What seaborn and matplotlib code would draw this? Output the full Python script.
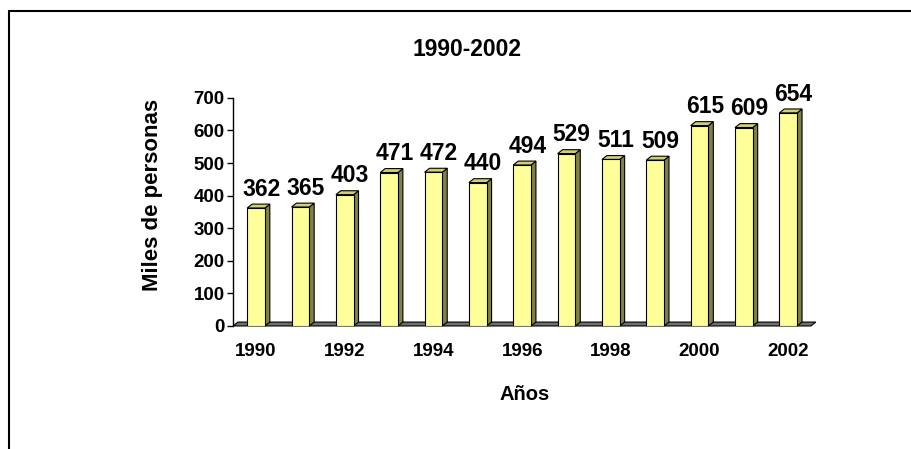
import matplotlib
matplotlib.use("Agg")
import matplotlib.pyplot as plt
import seaborn as sns
import pandas as pd
from matplotlib.patches import Polygon
from matplotlib.lines import Line2D

# datos
anios = ["1990", "1991", "1992", "1993", "1994", "1995", "1996",
         "1997", "1998", "1999", "2000", "2001", "2002"]
miles = [362, 365, 403, 471, 472, 440, 494, 529, 511, 509, 615, 609, 654]
etiquetas_x = ["1990", "", "1992", "", "1994", "", "1996",
               "", "1998", "", "2000", "", "2002"]
yticks = [0, 100, 200, 300, 400, 500, 600, 700]

FRENTE = "#FFFF99"
LADO = "#80804A"
TECHO = "#CFCF78"
PISO = "#6E6E6E"

sns.set_style("white")
plt.rcParams['font.family'] = ['Liberation Sans', 'DejaVu Sans']
plt.rcParams['font.weight'] = 'bold'
plt.rcParams['text.color'] = 'black'
plt.rcParams['axes.labelcolor'] = 'black'
plt.rcParams['xtick.color'] = 'black'
plt.rcParams['ytick.color'] = 'black'

df = pd.DataFrame({"anio": anios, "miles": miles})

fig = plt.figure(figsize=(9.12, 4.49), dpi=100)
ax = fig.add_axes([0.2555, 0.274, 0.639, 0.508])

sns.barplot(data=df, x="anio", y="miles", color=FRENTE, saturation=1,
            width=0.4, edgecolor="black", linewidth=0.8, ax=ax, zorder=3)

# profundidad del efecto 3D (en unidades de datos)
dx, dy = 0.11, 12
x_izq, x_der = -0.52, 12.62

# piso
piso = Polygon([(x_izq, 0), (x_der - dx, 0), (x_der, dy), (x_izq + dx, dy)],
               closed=True, facecolor=PISO, edgecolor="black", linewidth=0.8,
               zorder=1, clip_on=False)
ax.add_patch(piso)

for p, v in zip(list(ax.patches)[:len(miles)], miles):
    x0, w, h = p.get_x(), p.get_width(), p.get_height()
    lado = Polygon([(x0 + w, 0), (x0 + w + dx, dy), (x0 + w + dx, h + dy), (x0 + w, h)],
                   closed=True, facecolor=LADO, edgecolor="black", linewidth=0.8,
                   zorder=2, clip_on=False)
    techo = Polygon([(x0, h), (x0 + dx, h + dy), (x0 + w + dx, h + dy), (x0 + w, h)],
                    closed=True, facecolor=TECHO, edgecolor="black", linewidth=0.8,
                    zorder=2, clip_on=False)
    ax.add_patch(lado)
    ax.add_patch(techo)
    ax.annotate(str(v), (x0 + w / 2 + dx / 2, h + dy), xytext=(2, 6),
                textcoords="offset points", ha="center", va="baseline",
                fontsize=16.5, fontweight="bold", color="black", annotation_clip=False)

ax.set_xlim(x_izq, x_der)
ax.set_ylim(0, 700)
ax.set_yticks(yticks)
ax.set_yticklabels([str(t) for t in yticks], fontsize=13.5, fontweight="bold")
ax.set_xticks(range(len(anios)))
ax.set_xticklabels(etiquetas_x, fontsize=13.5, fontweight="bold")
ax.tick_params(axis="y", left=True, length=4, width=1, direction="out", pad=2)
ax.tick_params(axis="x", length=0, pad=12)

for s in ["top", "right", "bottom"]:
    ax.spines[s].set_visible(False)
ax.spines["left"].set_color("black")
ax.spines["left"].set_linewidth(1)

ax.set_xlabel("Años", fontsize=14.5, fontweight="bold", labelpad=18)
ax.set_ylabel("Miles de personas", fontsize=16, fontweight="bold")
ax.yaxis.set_label_coords(-0.12, 0.575)
ax.grid(False)

fig.text(0.512, 0.889, "1990-2002", ha="center", va="center",
         fontsize=16.5, fontweight="bold")

# marco del gráfico
fig.add_artist(Line2D([9.5 / 912, 1], [1 - 10.5 / 449, 1 - 10.5 / 449],
                      color="black", linewidth=1.5, transform=fig.transFigure))
fig.add_artist(Line2D([9.5 / 912, 9.5 / 912], [0, 1 - 10.5 / 449],
                      color="black", linewidth=1.5, transform=fig.transFigure))

fig.savefig("out.png", dpi=100)
